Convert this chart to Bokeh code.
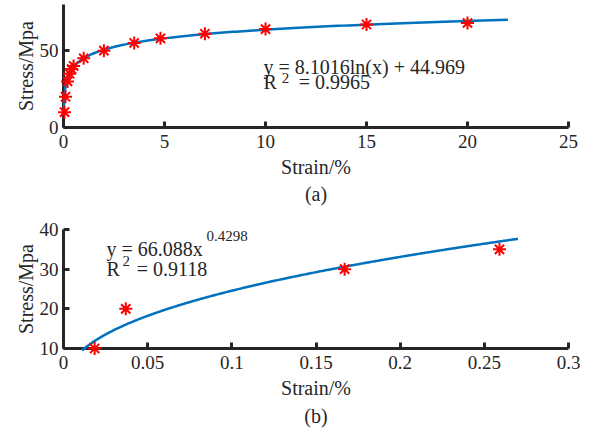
import numpy as np
from bokeh.plotting import figure
from bokeh.models import FixedTicker, Label, Title, NumeralTickFormatter, GridBox
from bokeh.embed import file_html
from bokeh.resources import INLINE

# ---- data (a) ----
strain_a = [0.05, 0.1, 0.2, 0.3, 0.4, 0.5, 1.0, 2.0, 3.5, 4.8, 7.0, 10.0, 15.0, 20.0]
stress_a = [10, 20, 30, 35, 38, 40, 45, 50, 55, 58, 61, 64, 67, 68]
fit_a_coef = [8.1016, 44.969]          # y = a*ln(x) + b
fit_a_range = [0.01, 22.0]
xticks_a = [0, 5, 10, 15, 20, 25]
yticks_a = [0, 50]

# ---- data (b) ----
strain_b = [0.0185, 0.037, 0.167, 0.259]
stress_b = [10, 20, 30, 35]
fit_b_coef = [66.088, 0.4298]          # y = a*x^b
fit_b_range = [0.011, 0.27]
xticks_b = [0, 0.05, 0.1, 0.15, 0.2, 0.25, 0.3]
yticks_b = [10, 20, 30, 40]

x_label = "Strain/%"
y_label = "Stress/Mpa"

FONT = "Liberation Serif"
AX = "#262626"
BLUE = "#0072BD"
RED = "#FF0000"
FS = "20px"
TFS = "19px"
SUP = "15px"

W, H = 595, 216
BL, BR = 63, 27


def style(p):
    p.outline_line_color = None
    p.xgrid.grid_line_color = None
    p.ygrid.grid_line_color = None
    p.background_fill_color = "white"
    p.border_fill_color = "white"
    for ax in (p.xaxis[0], p.yaxis[0]):
        ax.axis_line_color = AX
        ax.axis_line_width = 3
        ax.major_tick_line_color = AX
        ax.major_tick_line_width = 3
        ax.major_tick_in = 6
        ax.major_tick_out = 0
        ax.minor_tick_line_color = None
        ax.major_label_text_font = FONT
        ax.major_label_text_font_size = TFS
        ax.major_label_text_color = AX
    p.xaxis.major_label_standoff = 7
    p.yaxis.major_label_standoff = 5


def title(text, standoff=0):
    return Title(text=text, align="center", text_font=FONT, text_font_size=FS,
                 text_font_style="normal", text_color=AX, standoff=standoff)


def label(p, x, y, text, size=FS):
    p.add_layout(Label(x=x, y=y, text=text, text_font=FONT, text_font_size=size,
                       text_color=AX, text_baseline="middle"))


def make_pair(xr, yr, bt, bb, xticks, yticks, tag, tag_standoff, fmt=None):
    """Axes figure plus a transparent overlay (same data->pixel mapping) so that
    markers touching the axes are not cut by the frame edge."""
    p = figure(width=W, height=H, x_range=xr, y_range=yr,
               output_backend="svg", toolbar_location=None,
               min_border_left=BL, min_border_right=BR, min_border_top=bt,
               min_border_bottom=bb)
    p.xaxis.ticker = FixedTicker(ticks=xticks)
    p.yaxis.ticker = FixedTicker(ticks=yticks)
    if fmt is not None:
        p.xaxis.formatter = fmt
    style(p)
    p.add_layout(title(x_label, 6), "below")
    p.add_layout(title(tag, tag_standoff), "below")
    p.add_layout(title(y_label, 0), "left")
    fw, fh = W - BL - BR, H - bt - bb
    sx = (xr[1] - xr[0]) / fw
    sy = (yr[1] - yr[0]) / fh
    o = figure(width=W, height=H,
               x_range=(xr[0] - BL * sx, xr[1] + BR * sx),
               y_range=(yr[0] - bb * sy, yr[1] + bt * sy),
               output_backend="svg", toolbar_location=None,
               x_axis_location=None, y_axis_location=None,
               min_border=0, min_border_left=0, min_border_right=0,
               min_border_top=0, min_border_bottom=0)
    o.frame_align = False
    o.xgrid.visible = False
    o.ygrid.visible = False
    o.outline_line_color = None
    o.background_fill_alpha = 0
    o.border_fill_alpha = 0
    return p, o


# ---------- figure (a) ----------
p1, o1 = make_pair((0, 25), (0, 80), 4, 89, xticks_a, yticks_a, "(a)", 0)
xa = np.exp(np.linspace(np.log(fit_a_range[0]), np.log(fit_a_range[1]), 400))
ya = fit_a_coef[0] * np.log(xa) + fit_a_coef[1]
o1.line(xa, ya, line_color=BLUE, line_width=2.5)
o1.scatter(strain_a, stress_a, marker="asterisk", size=13, line_color=RED, line_width=2)

label(p1, 9.90, 39.3, "y = 8.1016ln(x) + 44.969")
label(p1, 9.90, 29.8, "R")
label(p1, 10.80, 32.0, "2", SUP)
label(p1, 11.65, 29.8, "= 0.9965")

# ---------- figure (b) ----------
p2, o2 = make_pair((0, 0.3), (10, 40), 13, 84, xticks_b, yticks_b, "(b)", 2,
                   NumeralTickFormatter(format="0.[00]"))
xb = np.linspace(fit_b_range[0], fit_b_range[1], 400)
yb = fit_b_coef[0] * xb ** fit_b_coef[1]
o2.line(xb, yb, line_color=BLUE, line_width=2.5)
o2.scatter(strain_b, stress_b, marker="asterisk", size=13, line_color=RED, line_width=2)

label(p2, 0.0255, 35.0, "y = 66.088x")
label(p2, 0.0850, 38.3, "0.4298", SUP)
label(p2, 0.0255, 30.0, "R")
label(p2, 0.0350, 32.0, "2", SUP)
label(p2, 0.0435, 30.0, "= 0.9118")

grid = GridBox(children=[(p1, 0, 0), (o1, 0, 0), (p2, 1, 0), (o2, 1, 0)], spacing=0)
open("out.html", "w").write(file_html(grid, INLINE))
